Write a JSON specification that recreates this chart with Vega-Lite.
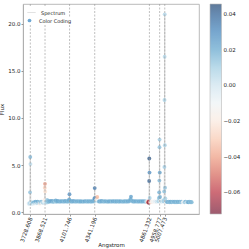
{
  "$schema": "https://vega.github.io/schema/vega-lite/v6.json",
  "width": 176,
  "height": 210,
  "autosize": {"type": "none"},
  "padding": {"left": 23, "top": 4, "right": 50, "bottom": 35},
  "background": "white",
  "config": {
    "font": "DejaVu Sans",
    "view": {"stroke": "#a8a8a8", "strokeWidth": 0.8},
    "axis": {"labelFont": "DejaVu Sans", "titleFont": "DejaVu Sans", "labelFontSize": 5.5, "titleFontSize": 5.5, "titleFontWeight": "normal", "labelColor": "#222", "titleColor": "#222", "domainColor": "#a8a8a8", "domainWidth": 0.8, "tickColor": "#555", "tickSize": 2, "tickWidth": 0.6, "grid": false, "labelPadding": 1, "labelOverlap": false},
    "legend": {"layout": {"top-left": {"direction": "vertical", "margin": 0}}}
  },
  "datasets": {
    "spec": [
      {"w": 3712, "f": 0.92, "c": -0.005}, {"w": 3718, "f": 0.86, "c": 0.000}, {"w": 3722, "f": 0.96, "c": 0.008},
      {"w": 3726, "f": 2.10, "c": 0.014}, {"w": 3728, "f": 5.85, "c": 0.018}, {"w": 3730, "f": 5.10, "c": 0.006},
      {"w": 3733, "f": 1.10, "c": 0.004}, {"w": 3738, "f": 0.95, "c": -0.008}, {"w": 3745, "f": 0.90, "c": 0.010},
      {"w": 3752, "f": 1.00, "c": 0.016}, {"w": 3758, "f": 0.85, "c": -0.010}, {"w": 3765, "f": 1.05, "c": 0.020},
      {"w": 3772, "f": 0.95, "c": 0.004}, {"w": 3778, "f": 1.10, "c": 0.022}, {"w": 3785, "f": 0.90, "c": -0.012},
      {"w": 3792, "f": 1.00, "c": 0.012}, {"w": 3798, "f": 1.12, "c": 0.022}, {"w": 3805, "f": 0.95, "c": 0.000},
      {"w": 3812, "f": 1.05, "c": 0.015}, {"w": 3818, "f": 0.90, "c": -0.020}, {"w": 3825, "f": 1.00, "c": 0.008},
      {"w": 3832, "f": 1.10, "c": 0.018}, {"w": 3838, "f": 0.95, "c": -0.015}, {"w": 3845, "f": 1.05, "c": 0.010},
      {"w": 3852, "f": 1.00, "c": 0.005}, {"w": 3858, "f": 1.10, "c": -0.010}, {"w": 3863, "f": 1.30, "c": -0.020},
      {"w": 3866, "f": 2.60, "c": -0.030}, {"w": 3868, "f": 3.00, "c": -0.042}, {"w": 3870, "f": 2.20, "c": -0.025},
      {"w": 3873, "f": 1.20, "c": -0.010}, {"w": 3878, "f": 1.00, "c": 0.005}, {"w": 3884, "f": 1.10, "c": 0.012},
      {"w": 3889, "f": 1.30, "c": 0.015}, {"w": 3894, "f": 1.05, "c": 0.010}, {"w": 3900, "f": 1.15, "c": 0.020},
      {"w": 3909, "f": 1.10, "c": 0.016}, {"w": 3918, "f": 1.18, "c": 0.024}, {"w": 3927, "f": 1.12, "c": 0.018},
      {"w": 3936, "f": 1.20, "c": 0.026}, {"w": 3945, "f": 1.08, "c": 0.014}, {"w": 3954, "f": 1.15, "c": 0.020},
      {"w": 3963, "f": 1.12, "c": 0.010}, {"w": 3970, "f": 1.25, "c": 0.022}, {"w": 3978, "f": 1.10, "c": 0.016},
      {"w": 3987, "f": 1.18, "c": 0.024}, {"w": 3996, "f": 1.12, "c": 0.019}, {"w": 4005, "f": 1.15, "c": 0.021},
      {"w": 4014, "f": 1.10, "c": 0.015}, {"w": 4023, "f": 1.17, "c": 0.023}, {"w": 4032, "f": 1.13, "c": 0.018},
      {"w": 4041, "f": 1.16, "c": 0.020}, {"w": 4050, "f": 1.10, "c": 0.014}, {"w": 4059, "f": 1.18, "c": 0.025},
      {"w": 4068, "f": 1.12, "c": 0.017}, {"w": 4077, "f": 1.15, "c": 0.021}, {"w": 4086, "f": 1.10, "c": 0.016},
      {"w": 4094, "f": 1.20, "c": 0.020}, {"w": 4098, "f": 1.35, "c": 0.024}, {"w": 4101, "f": 1.90, "c": 0.030},
      {"w": 4104, "f": 1.25, "c": 0.020}, {"w": 4110, "f": 1.12, "c": 0.016}, {"w": 4119, "f": 1.15, "c": 0.022},
      {"w": 4128, "f": 1.10, "c": 0.015}, {"w": 4137, "f": 1.18, "c": 0.024}, {"w": 4146, "f": 1.12, "c": 0.018},
      {"w": 4155, "f": 1.15, "c": 0.021}, {"w": 4164, "f": 1.09, "c": 0.014}, {"w": 4173, "f": 1.17, "c": 0.023},
      {"w": 4182, "f": 1.12, "c": 0.017}, {"w": 4191, "f": 1.15, "c": 0.020}, {"w": 4200, "f": 1.10, "c": 0.016},
      {"w": 4209, "f": 1.16, "c": 0.022}, {"w": 4218, "f": 1.12, "c": 0.019}, {"w": 4227, "f": 1.14, "c": 0.021},
      {"w": 4236, "f": 1.09, "c": 0.015}, {"w": 4245, "f": 1.17, "c": 0.024}, {"w": 4254, "f": 1.12, "c": 0.018},
      {"w": 4263, "f": 1.15, "c": 0.020}, {"w": 4272, "f": 1.10, "c": 0.014}, {"w": 4281, "f": 1.16, "c": 0.022},
      {"w": 4290, "f": 1.12, "c": 0.017}, {"w": 4299, "f": 1.15, "c": 0.021}, {"w": 4308, "f": 1.10, "c": 0.016},
      {"w": 4317, "f": 1.17, "c": 0.023}, {"w": 4326, "f": 1.12, "c": 0.018}, {"w": 4334, "f": 1.20, "c": 0.020},
      {"w": 4338, "f": 1.45, "c": 0.030}, {"w": 4341, "f": 2.55, "c": 0.036}, {"w": 4344, "f": 1.50, "c": 0.028},
      {"w": 4350, "f": 1.20, "c": 0.010}, {"w": 4358, "f": 1.35, "c": -0.020}, {"w": 4365, "f": 1.60, "c": -0.036},
      {"w": 4370, "f": 1.20, "c": -0.010}, {"w": 4378, "f": 1.12, "c": 0.016}, {"w": 4387, "f": 1.16, "c": 0.022},
      {"w": 4396, "f": 1.10, "c": 0.015}, {"w": 4405, "f": 1.18, "c": 0.024}, {"w": 4414, "f": 1.12, "c": 0.018},
      {"w": 4423, "f": 1.15, "c": 0.020}, {"w": 4432, "f": 1.09, "c": 0.013}, {"w": 4441, "f": 1.17, "c": 0.023},
      {"w": 4450, "f": 1.12, "c": 0.017}, {"w": 4459, "f": 1.14, "c": 0.021}, {"w": 4468, "f": 1.10, "c": 0.016},
      {"w": 4477, "f": 1.16, "c": 0.022}, {"w": 4486, "f": 1.12, "c": 0.019}, {"w": 4495, "f": 1.15, "c": 0.020},
      {"w": 4504, "f": 1.09, "c": 0.014}, {"w": 4513, "f": 1.17, "c": 0.024}, {"w": 4522, "f": 1.12, "c": 0.018},
      {"w": 4531, "f": 1.15, "c": 0.021}, {"w": 4540, "f": 1.10, "c": 0.015}, {"w": 4549, "f": 1.16, "c": 0.022},
      {"w": 4558, "f": 1.12, "c": 0.017}, {"w": 4567, "f": 1.15, "c": 0.020}, {"w": 4576, "f": 1.10, "c": 0.016},
      {"w": 4585, "f": 1.17, "c": 0.023}, {"w": 4594, "f": 1.12, "c": 0.018}, {"w": 4603, "f": 1.14, "c": 0.020},
      {"w": 4612, "f": 1.09, "c": 0.014}, {"w": 4621, "f": 1.16, "c": 0.022}, {"w": 4630, "f": 1.12, "c": 0.017},
      {"w": 4639, "f": 1.15, "c": 0.021}, {"w": 4648, "f": 1.10, "c": 0.015}, {"w": 4657, "f": 1.17, "c": 0.023},
      {"w": 4666, "f": 1.12, "c": 0.018}, {"w": 4674, "f": 1.20, "c": 0.020}, {"w": 4680, "f": 1.38, "c": 0.022},
      {"w": 4686, "f": 1.65, "c": 0.024}, {"w": 4692, "f": 1.28, "c": 0.018}, {"w": 4700, "f": 1.12, "c": 0.016},
      {"w": 4709, "f": 1.16, "c": 0.022}, {"w": 4718, "f": 1.10, "c": 0.015}, {"w": 4727, "f": 1.17, "c": 0.023},
      {"w": 4736, "f": 1.12, "c": 0.018}, {"w": 4745, "f": 1.15, "c": 0.020}, {"w": 4754, "f": 1.09, "c": 0.014},
      {"w": 4763, "f": 1.16, "c": 0.022}, {"w": 4772, "f": 1.12, "c": 0.017}, {"w": 4781, "f": 1.15, "c": 0.021},
      {"w": 4790, "f": 1.10, "c": 0.016}, {"w": 4799, "f": 1.17, "c": 0.023}, {"w": 4808, "f": 1.12, "c": 0.018},
      {"w": 4817, "f": 1.15, "c": 0.020}, {"w": 4826, "f": 1.10, "c": 0.012}, {"w": 4834, "f": 1.14, "c": 0.005},
      {"w": 4842, "f": 1.10, "c": -0.020}, {"w": 4848, "f": 1.05, "c": -0.045}, {"w": 4852, "f": 1.05, "c": -0.060},
      {"w": 4855, "f": 1.00, "c": -0.070}, {"w": 4857, "f": 1.15, "c": -0.066}, {"w": 4859, "f": 3.30, "c": 0.042},
      {"w": 4860, "f": 5.70, "c": 0.044}, {"w": 4862, "f": 4.20, "c": 0.030}, {"w": 4864, "f": 1.50, "c": 0.010},
      {"w": 4866, "f": 1.10, "c": -0.060}, {"w": 4869, "f": 1.05, "c": -0.030}, {"w": 4875, "f": 1.12, "c": -0.012},
      {"w": 4884, "f": 1.08, "c": -0.018}, {"w": 4893, "f": 1.12, "c": -0.008}, {"w": 4902, "f": 1.10, "c": -0.015},
      {"w": 4911, "f": 1.14, "c": -0.005}, {"w": 4920, "f": 1.08, "c": -0.012}, {"w": 4929, "f": 1.12, "c": 0.004},
      {"w": 4938, "f": 1.10, "c": -0.010}, {"w": 4946, "f": 1.15, "c": 0.010}, {"w": 4951, "f": 1.50, "c": 0.016},
      {"w": 4954, "f": 2.10, "c": 0.020}, {"w": 4956, "f": 3.35, "c": 0.018}, {"w": 4957, "f": 6.90, "c": 0.015},
      {"w": 4958, "f": 7.70, "c": 0.012}, {"w": 4960, "f": 4.20, "c": 0.024}, {"w": 4962, "f": 1.60, "c": 0.020},
      {"w": 4966, "f": 1.20, "c": -0.012}, {"w": 4972, "f": 1.10, "c": -0.006}, {"w": 4980, "f": 1.14, "c": 0.010},
      {"w": 4988, "f": 1.10, "c": -0.010}, {"w": 4995, "f": 1.15, "c": 0.012}, {"w": 5000, "f": 1.30, "c": 0.010},
      {"w": 5002, "f": 2.20, "c": 0.016}, {"w": 5004, "f": 4.80, "c": 0.012}, {"w": 5005, "f": 11.9, "c": 0.010},
      {"w": 5006, "f": 16.5, "c": 0.008}, {"w": 5007, "f": 21.0, "c": 0.008}, {"w": 5008, "f": 7.10, "c": 0.010},
      {"w": 5010, "f": 2.60, "c": 0.015}, {"w": 5013, "f": 1.45, "c": 0.010}, {"w": 5017, "f": 1.10, "c": -0.010},
      {"w": 5024, "f": 1.12, "c": 0.016}, {"w": 5033, "f": 1.06, "c": 0.020}, {"w": 5042, "f": 1.12, "c": 0.018},
      {"w": 5051, "f": 1.05, "c": 0.014}, {"w": 5060, "f": 1.10, "c": 0.022}, {"w": 5069, "f": 1.04, "c": 0.016},
      {"w": 5078, "f": 1.10, "c": 0.020}, {"w": 5087, "f": 1.06, "c": 0.012}, {"w": 5096, "f": 1.12, "c": 0.022},
      {"w": 5105, "f": 1.05, "c": 0.017}, {"w": 5114, "f": 1.10, "c": 0.019}, {"w": 5123, "f": 1.04, "c": 0.014},
      {"w": 5132, "f": 1.10, "c": 0.021}, {"w": 5141, "f": 1.06, "c": 0.016}, {"w": 5150, "f": 1.11, "c": 0.020},
      {"w": 5159, "f": 1.05, "c": 0.012}, {"w": 5168, "f": 1.10, "c": 0.018}, {"w": 5177, "f": 1.04, "c": -0.008},
      {"w": 5186, "f": 1.08, "c": -0.014}, {"w": 5195, "f": 1.05, "c": 0.010}, {"w": 5204, "f": 1.10, "c": 0.020},
      {"w": 5213, "f": 1.04, "c": -0.010}, {"w": 5222, "f": 1.08, "c": 0.016}, {"w": 5231, "f": 1.05, "c": 0.022},
      {"w": 5240, "f": 1.10, "c": 0.018}, {"w": 5249, "f": 1.04, "c": 0.014}, {"w": 5257, "f": 1.08, "c": 0.020},
      {"w": 5264, "f": 1.05, "c": 0.016}
    ],
    "lines": [
      {"w": 3728.608}, {"w": 3868.521}, {"w": 4101.746}, {"w": 4341.196},
      {"w": 4861.332}, {"w": 4958.777}, {"w": 5007.473}
    ]
  },
  "encoding": {
    "x": {"field": "w", "type": "quantitative", "scale": {"domain": [3659, 5333], "nice": false, "zero": false},
      "axis": {"title": "Angstrom", "values": [3728.608, 3868.521, 4101.746, 4341.196, 4861.332, 4958.777, 5007.473], "format": ".3f", "labelAngle": -70, "labelAlign": "right", "labelBaseline": "middle", "labelOverlap": false, "labelBound": false, "labelFlush": false, "labelSeparation": 0, "titlePadding": 0}}
  },
  "layer": [
    {
      "data": {"name": "spec"},
      "mark": {"type": "line", "strokeWidth": 0.9, "opacity": 0.8, "color": "#cfcfcf"},
      "encoding": {
        "y": {"field": "f", "type": "quantitative", "scale": {"domain": [-0.2, 22.1], "nice": false, "zero": false},
          "axis": {"title": "Flux", "values": [0, 2.5, 5, 7.5, 10, 12.5, 15, 17.5, 20], "format": ".1f", "labelOverlap": false, "titlePadding": 3}},
        "strokeDash": {"datum": "Spectrum", "type": "nominal",
          "scale": {"domain": ["Spectrum"], "range": [[1, 0]]},
          "legend": {"title": null, "orient": "top-left", "offset": 3, "padding": 1, "fillColor": "white",
            "labelFont": "DejaVu Sans", "labelFontSize": 5, "labelColor": "#222", "symbolType": "stroke", "symbolStrokeColor": "#cfcfcf", "symbolStrokeWidth": 1, "symbolSize": 64, "labelOffset": 5}}
      }
    },
    {
      "data": {"name": "spec"},
      "mark": {"type": "point", "filled": true, "size": 15, "opacity": 0.8, "strokeWidth": 0},
      "encoding": {
        "y": {"field": "f", "type": "quantitative"},
        "shape": {"datum": "Color Coding", "type": "nominal",
          "scale": {"domain": ["Color Coding"], "range": ["circle"]},
          "legend": {"title": null, "orient": "top-left", "offset": 3, "padding": 1, "fillColor": "white",
            "labelFont": "DejaVu Sans", "labelFontSize": 5, "labelColor": "#222", "symbolFillColor": "#6fa8d3", "symbolStrokeWidth": 0, "symbolOpacity": 1, "symbolSize": 14, "labelOffset": 7}},
        "fill": {"field": "c", "type": "quantitative",
          "scale": {"domain": [-0.0722, 0.0456], "interpolate": "rgb",
            "range": ["#85334c", "#c14655", "#de8071", "#f6b79b", "#fde2d2", "#f9f9f9", "#daeaf3", "#a8d1e5", "#69a9cf", "#4d85bd", "#375981"]},
          "legend": {"title": null, "orient": "right", "offset": 11, "padding": 0, "gradientLength": 210, "gradientThickness": 11.5,
            "gradientStrokeColor": "#a8a8a8", "gradientStrokeWidth": 0.6,
            "values": [-0.06, -0.04, -0.02, 0, 0.02, 0.04], "format": ".2f",
            "labelFont": "DejaVu Sans", "labelFontSize": 5.5, "labelColor": "#222", "labelOffset": 2}}
      }
    },
    {
      "data": {"name": "lines"},
      "mark": {"type": "rule", "color": "#9a9a9a", "strokeWidth": 0.7, "strokeDash": [2, 1.5], "opacity": 0.9},
      "encoding": {}
    }
  ]
}
